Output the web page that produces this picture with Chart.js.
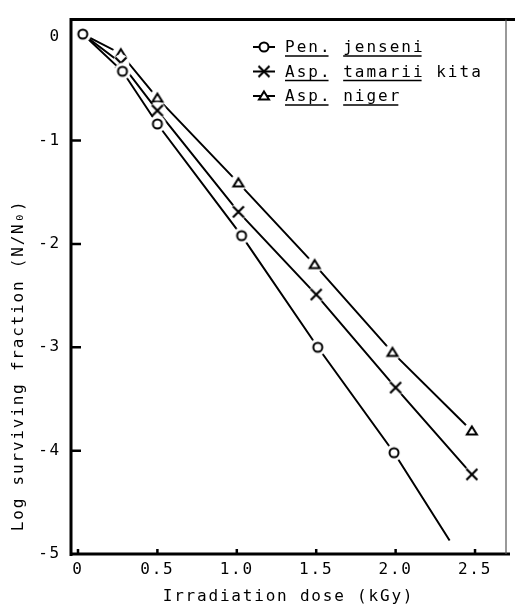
<!DOCTYPE html>
<html>
<head>
<meta charset="utf-8">
<script src="https://cdn.jsdelivr.net/npm/chart.js@4/dist/chart.umd.min.js"></script>
<style>
  body { margin: 0; background: #fff; }
  canvas { display: block; }
</style>
</head>
<body>
<canvas id="chart" width="516" height="606"></canvas>
<script>
// data
const penDose = [0.03, 0.28, 0.50, 1.03, 1.51, 1.99, 2.34];
const penLog  = [0.03, -0.33, -0.84, -1.92, -3.00, -4.02, -4.87];
const tamDose = [0.03, 0.27, 0.50, 1.01, 1.50, 2.00, 2.48];
const tamLog  = [0.03, -0.25, -0.71, -1.69, -2.49, -3.39, -4.23];
const nigDose = [0.03, 0.27, 0.50, 1.01, 1.49, 1.98, 2.48];
const nigLog  = [0.03, -0.16, -0.59, -1.41, -2.20, -3.05, -3.81];

const xTicks = [0, 0.5, 1.0, 1.5, 2.0, 2.5];
const yTicks = [-5, -4, -3, -2, -1, 0];

const FONT = "'DejaVu Sans Mono', monospace";
const SPACING = '1.8px';

// marker images, with a white halo so the line stops short of the marker
function marker(kind, halo) {
    const c = document.createElement('canvas');
    c.width = 20; c.height = 20;
    const g = c.getContext('2d');
    if (halo) {
        g.fillStyle = '#fff';
        g.beginPath(); g.arc(10, 10, 8.5, 0, Math.PI * 2); g.fill();
    }
    g.strokeStyle = '#000';
    g.fillStyle = '#fff';
    g.lineWidth = 2;
    g.beginPath();
    if (kind === 'circle') {
        g.arc(10, 10, 4.5, 0, Math.PI * 2);
        g.fill(); g.stroke();
    } else if (kind === 'cross') {
        g.lineWidth = 2.2;
        g.moveTo(4.5, 4.5); g.lineTo(15.5, 15.5);
        g.moveTo(15.5, 4.5); g.lineTo(4.5, 15.5);
        g.stroke();
    } else {
        g.moveTo(10, 5.5); g.lineTo(15, 13.5); g.lineTo(5, 13.5); g.closePath();
        g.fill(); g.stroke();
    }
    return c;
}

const pts = (xs, ys) => xs.map((x, i) => ({x: x, y: ys[i]}));

//frame, inward ticks and the legend
const decor = {
    id: 'decor',
    beforeUpdate(chart) {
        chart.ctx.letterSpacing = SPACING;
    },
    beforeDraw(chart) {
        chart.ctx.letterSpacing = SPACING;
    },
    afterDraw(chart) {
        const ctx = chart.ctx;
        const a = chart.chartArea;
        const xs = chart.scales.x, ys = chart.scales.y;
        ctx.save();
        ctx.strokeStyle = '#000';
        ctx.lineCap = 'butt';

        ctx.lineWidth = 3;
        ctx.beginPath();
        ctx.moveTo(a.left, a.bottom + 2); ctx.lineTo(a.left, a.top - 1.5);
        ctx.moveTo(a.left - 1.5, a.top); ctx.lineTo(a.right + 9, a.top);
        ctx.moveTo(a.left - 1.5, a.bottom); ctx.lineTo(a.right + 4, a.bottom);
        ctx.stroke();

        ctx.lineWidth = 1.2;
        ctx.strokeStyle = '#555';
        ctx.beginPath();
        ctx.moveTo(a.right, a.top); ctx.lineTo(a.right, a.bottom);
        ctx.stroke();

        ctx.strokeStyle = '#000';
        ctx.lineWidth = 2.5;
        ctx.beginPath();
        yTicks.filter(v => v > -5 && v < 0).forEach(v => {
            const p = ys.getPixelForValue(v);
            ctx.moveTo(a.left, p); ctx.lineTo(a.left + 10, p);
        });
        xTicks.forEach(v => {
            const p = xs.getPixelForValue(v);
            ctx.moveTo(p, a.bottom); ctx.lineTo(p, a.bottom - 5);
        });
        ctx.stroke();

        // legend
        const rows = [
            {kind: 'circle', text: 'Pen. jenseni', under: [[0, 4], [5, 12]]},
            {kind: 'cross', text: 'Asp. tamarii kita', under: [[0, 4], [5, 12]]},
            {kind: 'triangle', text: 'Asp. niger', under: [[0, 4], [5, 10]]}
        ];
        ctx.font = '16px ' + FONT;
        ctx.letterSpacing = '2px';
        ctx.fillStyle = '#000';
        ctx.textBaseline = 'alphabetic';
        const tx = 285;
        rows.forEach((r, i) => {
            const y = 47 + i * 24.5;
            ctx.lineWidth = 2;
            ctx.beginPath();
            ctx.moveTo(253, y); ctx.lineTo(275, y);
            ctx.stroke();
            const m = marker(r.kind, false);
            ctx.drawImage(m, 264 - 10, y - 10);
            ctx.fillText(r.text, tx, y + 5);
            const cw = ctx.measureText('M').width;
            ctx.lineWidth = 1.5;
            ctx.beginPath();
            r.under.forEach(u => {
                ctx.moveTo(tx + u[0] * cw, y + 9);
                ctx.lineTo(tx + u[1] * cw - 3, y + 9);
            });
            ctx.stroke();
        });
        ctx.restore();
    }
};

const line = (label, data, kind, radii) => ({
    label: label,
    data: data,
    showLine: true,
    borderColor: '#000',
    borderWidth: 2,
    tension: 0,
    fill: false,
    pointStyle: marker(kind, true),
    pointRadius: radii,
    pointHoverRadius: radii
});

new Chart(document.querySelector('#chart'), {
    type: 'scatter',
    data: {
        datasets: [
            line('Pen. jenseni', pts(penDose, penLog), 'circle', [5, 5, 5, 5, 5, 5, 0]),
            line('Asp. tamarii kita', pts(tamDose, tamLog), 'cross', [0, 5, 5, 5, 5, 5, 5]),
            line('Asp. niger', pts(nigDose, nigLog), 'triangle', [0, 5, 5, 5, 5, 5, 5])
        ]
    },
    options: {
        responsive: false,
        animation: false,
        layout: {padding: {top: 15, right: 10, bottom: 0, left: 0}},
        plugins: {legend: {display: false}, tooltip: {enabled: false}},
        scales: {
            x: {
                type: 'linear',
                min: -0.044,
                max: 2.695,
                afterBuildTicks: s => { s.ticks = xTicks.map(v => ({value: v})); },
                afterFit: s => { s.height = 52; },
                grid: {display: false, drawTicks: false},
                border: {display: false},
                ticks: {
                    color: '#000',
                    font: {family: FONT, size: 16},
                    padding: 6,
                    maxRotation: 0,
                    autoSkip: false,
                    callback: v => v === 0 ? '0' : v.toFixed(1)
                },
                title: {
                    display: true,
                    text: 'Irradiation dose (kGy)',
                    color: '#000',
                    font: {family: FONT, size: 16},
                    padding: {top: 0, bottom: 0}
                }
            },
            y: {
                type: 'linear',
                min: -5,
                max: 0.17,
                afterBuildTicks: s => { s.ticks = yTicks.map(v => ({value: v})); },
                afterFit: s => { s.width = 71; },
                grid: {display: false, drawTicks: false},
                border: {display: false},
                ticks: {
                    color: '#000',
                    font: {family: FONT, size: 16},
                    padding: 10,
                    callback: v => v === 0 ? '0' : String(v)
                },
                title: {
                    display: true,
                    text: '  Log surviving fraction (N/N₀)',
                    align: 'start',
                    color: '#000',
                    font: {family: FONT, size: 16},
                    padding: {top: 9, bottom: 0}
                }
            }
        }
    },
    plugins: [decor]
});
</script>
</body>
</html>
